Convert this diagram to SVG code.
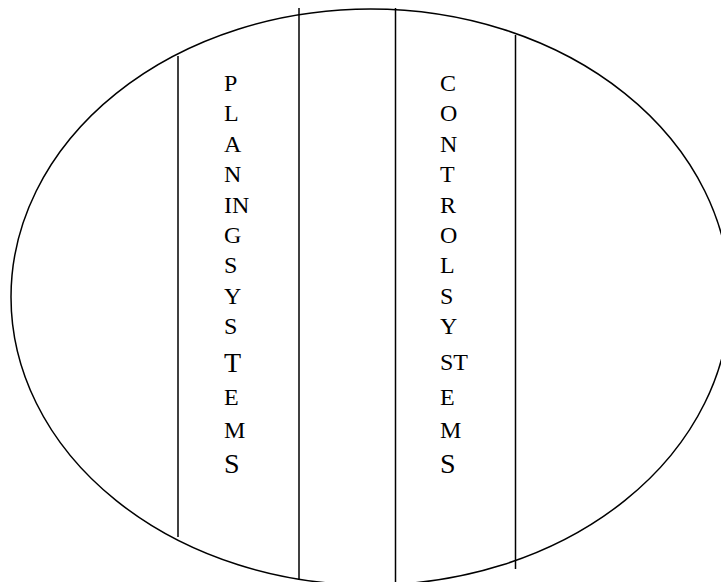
<svg xmlns="http://www.w3.org/2000/svg" width="721" height="582" viewBox="0 0 721 582">
<style>
.ln{stroke:#000;stroke-width:1.5;fill:none}
.t{font-family:"Liberation Serif","Times New Roman",serif;font-size:24px;fill:#000}
.b{font-size:28px}
</style>
<rect width="721" height="582" fill="#fff"/>
<g id="ellipse"><ellipse class="ln" cx="370.5" cy="297" rx="359.5" ry="288"/></g>
<g id="dividers">
<line class="ln" x1="178" y1="56" x2="178" y2="537"/>
<line class="ln" x1="299" y1="8" x2="299" y2="580"/>
<line class="ln" x1="395.5" y1="8" x2="395.5" y2="582"/>
<line class="ln" x1="515.5" y1="35" x2="515.5" y2="569"/>
</g>
<g id="planning" class="t">
<text x="224" y="91">P</text>
<text x="224" y="121">L</text>
<text x="224" y="152">A</text>
<text x="224" y="182">N</text>
<text x="224" y="213">IN</text>
<text x="224" y="243">G</text>
<text x="224" y="273">S</text>
<text x="224" y="304">Y</text>
<text x="224" y="334">S</text>
<text x="224" y="372" class="b">T</text>
<text x="224" y="405">E</text>
<text x="224" y="438">M</text>
<text x="224" y="473" class="b">S</text>
</g>
<g id="control" class="t">
<text x="440" y="91">C</text>
<text x="440" y="121">O</text>
<text x="440" y="152">N</text>
<text x="440" y="182">T</text>
<text x="440" y="213">R</text>
<text x="440" y="243">O</text>
<text x="440" y="273">L</text>
<text x="440" y="304">S</text>
<text x="440" y="334">Y</text>
<text x="440" y="370">ST</text>
<text x="440" y="405">E</text>
<text x="440" y="438">M</text>
<text x="440" y="473" class="b">S</text>
</g>
</svg>
